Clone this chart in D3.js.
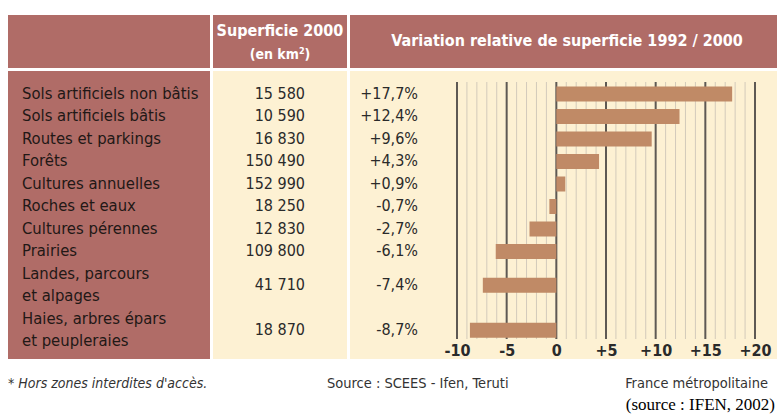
<!DOCTYPE html>
<html>
<head>
<meta charset="utf-8">
<script src="https://cdn.jsdelivr.net/npm/d3@7"></script>
<style>
  body { margin: 0; background: #fff; }
  svg { display: block; }
  .cond { font-family: "Liberation Sans Narrow", "DejaVu Sans Condensed", "Noto Sans", sans-serif; }
  .head { fill: #fff; font-weight: bold; }
</style>
</head>
<body>
<div id="chart"></div>
<script>
// land use categories (one entry per line of text)
var categories = [
  ["Sols artificiels non bâtis"],
  ["Sols artificiels bâtis"],
  ["Routes et parkings"],
  ["Forêts"],
  ["Cultures annuelles"],
  ["Roches et eaux"],
  ["Cultures pérennes"],
  ["Prairies"],
  ["Landes, parcours", "et alpages"],
  ["Haies, arbres épars", "et peupleraies"]
];
var surfaces = ["15 580", "10 590", "16 830", "150 490", "152 990", "18 250", "12 830", "109 800", "41 710", "18 870"];
var variations = [17.7, 12.4, 9.6, 4.3, 0.9, -0.7, -2.7, -6.1, -7.4, -8.7];
var ticks = [-10, -5, 0, 5, 10, 15, 20];

var width = 777, height = 416;

var svg = d3.select("#chart")
  .append("svg")
  .attr("width", width)
  .attr("height", height);

var mauve = "#b06c67", cream = "#fdf1d3", barColor = "#c08a66";

// table cells
var cols = [{x: 8, w: 202}, {x: 213, w: 134}, {x: 350, w: 427}];
var headTop = 15, headH = 53, bodyTop = 71, bodyH = 288;

cols.forEach(function(c, i) {
  svg.append("rect").attr("x", c.x).attr("y", headTop).attr("width", c.w).attr("height", headH).attr("fill", mauve);
  svg.append("rect").attr("x", c.x).attr("y", bodyTop).attr("width", c.w).attr("height", bodyH)
    .attr("fill", i == 0 ? mauve : cream);
});

// header texts
svg.append("text").attr("class", "cond head").attr("x", 280).attr("y", 36)
  .attr("text-anchor", "middle").style("font-size", "16px").text("Superficie 2000");
svg.append("text").attr("class", "cond head").attr("x", 280).attr("y", 59)
  .attr("text-anchor", "middle").style("font-size", "14px")
  .html("(en km<tspan dy='-5' style='font-size:9px'>2</tspan><tspan dy='5'>)</tspan>");
svg.append("text").attr("class", "cond head").attr("x", 567).attr("y", 46)
  .attr("text-anchor", "middle").style("font-size", "16px").text("Variation relative de superficie 1992 / 2000");

// line index -> y (every row is one or two lines of text)
var lineCount = d3.sum(categories, function(c) { return c.length; });
var yLine = d3.scaleLinear().domain([0, lineCount - 1]).range([93, 93 + 22.5 * (lineCount - 1)]);

var rows = [];
var k = 0;
categories.forEach(function(c, i) {
  rows.push({lines: c, first: k, center: yLine(k + (c.length - 1) / 2),
             surface: surfaces[i], value: variations[i]});
  k += c.length;
});

// x scale for bars
var x = d3.scaleLinear().domain([-10, 20]).range([457, 755]);

// grid: minor lines each unit, major each 5
var gridTop = 82, gridBottom = 339;
svg.append("g").selectAll("line")
  .data(d3.range(-10, 21).filter(function(v) { return v % 5 != 0; }))
  .enter().append("line")
  .attr("x1", function(d) { return x(d); }).attr("x2", function(d) { return x(d); })
  .attr("y1", gridTop).attr("y2", gridBottom)
  .attr("stroke", "#d3cabb").attr("stroke-width", 1);

svg.append("g").selectAll("line")
  .data(ticks)
  .enter().append("line")
  .attr("x1", function(d) { return x(d); }).attr("x2", function(d) { return x(d); })
  .attr("y1", gridTop).attr("y2", gridBottom)
  .attr("stroke", "#5e5954").attr("stroke-width", 2);

// bars
svg.append("g").selectAll("rect")
  .data(rows)
  .enter().append("rect")
  .attr("x", function(d) { return x(Math.min(0, d.value)); })
  .attr("width", function(d) { return Math.abs(x(d.value) - x(0)); })
  .attr("y", function(d) { return d.center - 6.5; })
  .attr("height", 15)
  .attr("fill", barColor);

// axis labels
svg.append("g")
  .attr("transform", "translate(0,356)")
  .call(d3.axisBottom(x).tickValues(ticks).tickSize(0).tickPadding(0)
    .tickFormat(function(d) { return d > 0 ? "+" + d : String(d); }))
  .call(function(g) { g.select(".domain").remove(); })
  .selectAll("text")
  .attr("class", "cond")
  .attr("dy", 0)
  .attr("fill", "#2a2a2a")
  .style("font-size", "16px")
  .style("font-weight", "bold");

// category labels
var lab = svg.append("g").attr("class", "cond").style("font-size", "16.5px").attr("fill", "#221816");
rows.forEach(function(r) {
  r.lines.forEach(function(l, j) {
    lab.append("text").attr("x", 22).attr("y", yLine(r.first + j) + 5.5).text(l);
  });
});

// surfaces
svg.append("g").attr("class", "cond").style("font-size", "16px").attr("fill", "#2a2a2a")
  .selectAll("text").data(rows).enter().append("text")
  .attr("x", 305).attr("y", function(d) { return d.center + 5.5; })
  .attr("text-anchor", "end")
  .text(function(d) { return d.surface; });

// variation labels
svg.append("g").attr("class", "cond").style("font-size", "16px").attr("fill", "#2a2a2a")
  .selectAll("text").data(rows).enter().append("text")
  .attr("x", 418).attr("y", function(d) { return d.center + 5.5; })
  .attr("text-anchor", "end")
  .text(function(d) {
    var s = Math.abs(d.value).toFixed(1).replace(".", ",");
    return (d.value > 0 ? "+" : "-") + s + "%";
  });

// footer
svg.append("text").attr("class", "cond").attr("x", 8).attr("y", 388)
  .style("font-size", "14px").style("font-style", "italic").attr("fill", "#333")
  .text("* Hors zones interdites d'accès.");
svg.append("text").attr("class", "cond").attr("x", 327).attr("y", 388)
  .style("font-size", "14.5px").attr("fill", "#333")
  .text("Source : SCEES - Ifen, Teruti");
svg.append("text").attr("class", "cond").attr("x", 768).attr("y", 388)
  .attr("text-anchor", "end").style("font-size", "14.5px").attr("fill", "#333")
  .text("France métropolitaine");
svg.append("text").attr("x", 775).attr("y", 410)
  .attr("text-anchor", "end")
  .style("font-family", "'Liberation Serif', 'Times New Roman', serif")
  .style("font-size", "17px").attr("fill", "#000")
  .text("(source : IFEN, 2002)");
</script>
</body>
</html>
